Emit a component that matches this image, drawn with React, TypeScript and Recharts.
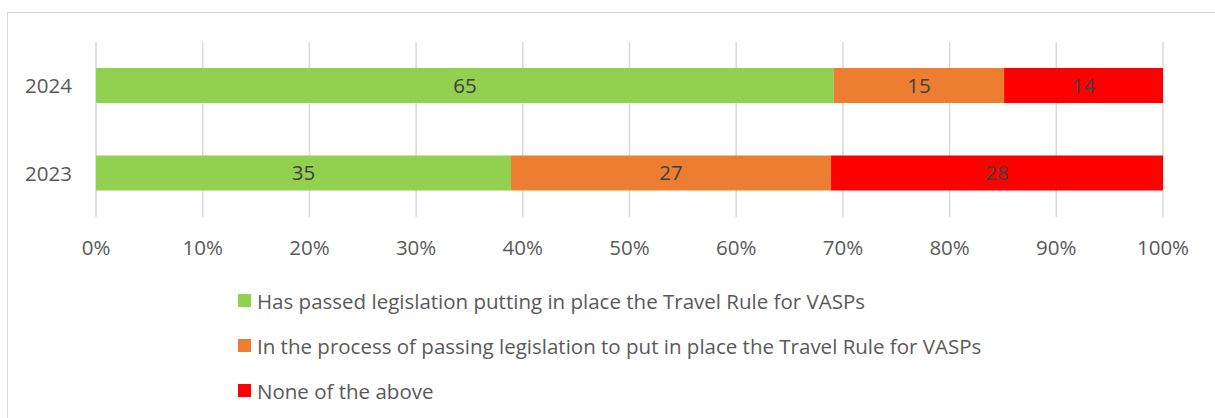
import React from "react";
import { BarChart, Bar, XAxis, YAxis, CartesianGrid, Legend, LabelList } from "recharts";

const years = ["2024", "2023"];
const passed = [65, 35];
const inProcess = [15, 27];
const noneAbove = [14, 28];
const xTicks = [0, 0.1, 0.2, 0.3, 0.4, 0.5, 0.6, 0.7, 0.8, 0.9, 1];

const seriesNames = [
  "Has passed legislation putting in place the Travel Rule for VASPs",
  "In the process of passing legislation to put in place the Travel Rule for VASPs",
  "None of the above",
];
const seriesColors = ["#92d050", "#ed7d31", "#ff0000"];
const seriesKeys = ["passed", "inProcess", "none"];

const data = years.map((y, i) => ({
  year: y,
  passed: passed[i],
  inProcess: inProcess[i],
  none: noneAbove[i],
}));

const FONT = "'Open Sans', sans-serif";

const renderLegend = () => (
  <div style={{ fontFamily: FONT, fontSize: 20.5, color: "#595959" }}>
    {seriesNames.map((n, i) => (
      <div key={n} style={{ display: "flex", alignItems: "center", height: 45 }}>
        <span
          style={{
            display: "inline-block",
            width: 13,
            height: 13,
            background: seriesColors[i],
            marginRight: 6,
          }}
        />
        <span>{n}</span>
      </div>
    ))}
  </div>
);

export default function App() {
  return (
    <div
      style={{
        position: "absolute",
        left: 0,
        top: 0,
        width: 1215,
        height: 418,
        overflow: "hidden",
        background: "#fff",
        fontFamily: FONT,
      }}
    >
      <div
        style={{
          position: "absolute",
          left: 7,
          top: 12,
          width: 1400,
          height: 600,
          border: "1.5px solid #d9d9d9",
          boxSizing: "border-box",
        }}
      />
      <div style={{ position: "absolute", left: 0, top: 0 }}>
        <BarChart
          width={1215}
          height={418}
          data={data}
          layout="vertical"
          stackOffset="expand"
          margin={{ top: 42, right: 52, left: 0, bottom: 171 }}
          barCategoryGap={0}
        >
          <CartesianGrid horizontal={false} vertical={true} stroke="#d9d9d9" strokeWidth={1.5} />
          <XAxis
            type="number"
            domain={[0, 1]}
            ticks={xTicks}
            tickFormatter={(v: number) => `${Math.round(v * 100)}%`}
            axisLine={false}
            tickLine={false}
            tickSize={0}
            tickMargin={23}
            height={30}
            interval={0}
            tick={{ fill: "#595959", fontSize: 20.5, fontFamily: FONT }}
          />
          <YAxis
            type="category"
            dataKey="year"
            axisLine={false}
            tickLine={false}
            tickSize={0}
            tickMargin={24}
            width={96}
            tick={{ fill: "#595959", fontSize: 20.5, fontFamily: FONT }}
          />
          <Legend
            layout="vertical"
            align="center"
            verticalAlign="middle"
            wrapperStyle={{ left: 238, top: 278, width: 960 }}
            content={renderLegend}
          />
          {seriesKeys.map((k, i) => (
            <Bar
              key={k}
              dataKey={k}
              name={seriesNames[i]}
              stackId="a"
              fill={seriesColors[i]}
              barSize={35}
              isAnimationActive={false}
            >
              <LabelList
                dataKey={k}
                position="center"
                fill="#404040"
                fontSize={20.5}
                fontFamily={FONT}
              />
            </Bar>
          ))}
        </BarChart>
      </div>
    </div>
  );
}
